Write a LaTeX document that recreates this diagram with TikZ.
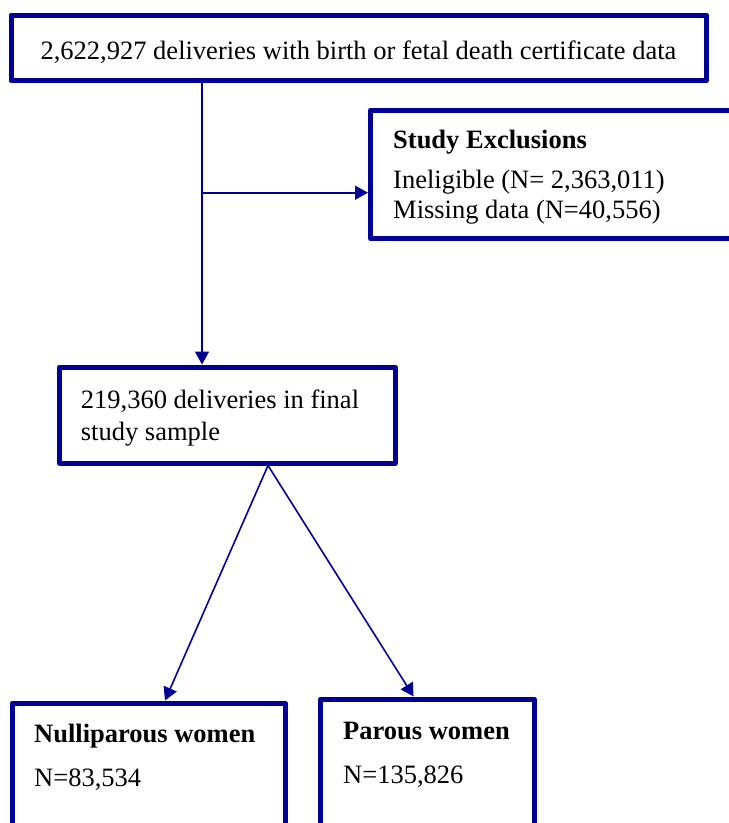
\documentclass[tikz,border=0pt]{standalone}
\usepackage{fontspec}
\setmainfont{Liberation Serif}
\usetikzlibrary{arrows.meta}
\definecolor{navy}{RGB}{0,0,150}
\begin{document}
\begin{tikzpicture}[x=1pt,y=-1pt,
  box/.style={draw=navy,line width=5pt,rectangle,fill=white,inner sep=0pt,line join=round},
  txt/.style={inner sep=0pt,anchor=base west,font=\fontsize{26.5}{32}\selectfont},
  conn/.style={draw=navy,line width=1.6pt,-{Triangle[length=13pt,width=14pt]}}]
\useasboundingbox (0,0) rectangle (729,823);
\clip (0,0) rectangle (729,823);
% boxes
\node[box,minimum width=695.5pt,minimum height=65.5pt] (top) at (358.75,47.75) {};
\node[box,minimum width=374.5pt,minimum height=128.5pt] (excl) at (557.75,174.25) {};
\node[box,minimum width=335.5pt,minimum height=96pt] (final) at (227.25,415) {};
\node[box,minimum width=272.5pt,minimum height=147pt] (nulli) at (148.75,776.5) {};
\node[box,minimum width=213.5pt,minimum height=151pt] (parous) at (427.25,774.5) {};
% texts
\node[txt,anchor=base] (t1) at (358.5,59) {2,622,927 deliveries with birth or fetal death certificate data};
\node[txt] (e1) at (393,148) {\textbf{Study Exclusions}};
\node[txt] (e2) at (393,188.3) {Ineligible (N= 2,363,011)};
\node[txt] (e3) at (393,218.3) {Missing data (N=40,556)};
\node[txt] (f1) at (80.7,408.5) {219,360 deliveries in final};
\node[txt] (f2) at (80.7,440) {study sample};
\node[txt] (n1) at (34,742) {\textbf{Nulliparous women}};
\node[txt] (n2) at (34,786) {N=83,534};
\node[txt] (p1) at (343,739) {\textbf{Parous women}};
\node[txt] (p2) at (343,783) {N=135,826};
% connectors
\coordinate (split) at (202,192.7);
\coordinate (fork) at (268,463);
\coordinate (ntip) at (165,700);
\coordinate (ptip) at (413.6,696);
\draw[conn] (top.south -| split) -- (final.north -| split);
\draw[conn] (split) -- (excl.west |- split);
\draw[conn] (final.south -| fork) -- (nulli.north -| ntip);
\draw[conn] (final.south -| fork) -- (parous.north -| ptip);
\end{tikzpicture}
\end{document}
